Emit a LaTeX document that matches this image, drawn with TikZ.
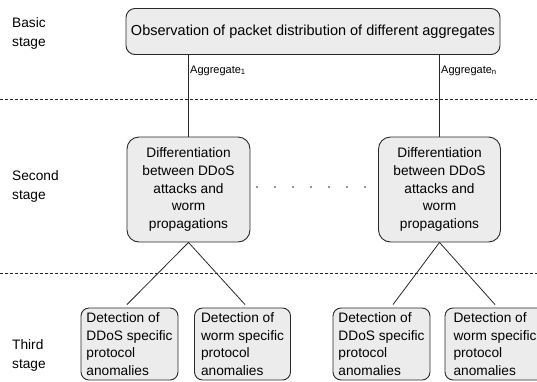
\documentclass[tikz,border=0pt]{standalone}
\usepackage{fontspec}
\setmainfont{Liberation Sans}
\usetikzlibrary{calc}
\definecolor{boxfill}{RGB}{236,236,236}
\definecolor{linegray}{RGB}{40,40,40}
\tikzset{
  stagebox/.style={draw=linegray, line width=0.9pt, fill=boxfill, rounded corners=#1,
    inner sep=0pt, font=\fontsize{13.7}{17.6}\selectfont},
  stagebox/.default=9pt,
  stagelabel/.style={anchor=west, align=left, inner sep=0pt,
    font=\fontsize{13.7}{19}\selectfont},
  agglabel/.style={anchor=west, inner sep=1pt, font=\fontsize{11}{13}\selectfont},
  link/.style={draw=linegray, line width=0.8pt},
  divider/.style={draw=linegray, line width=0.7pt, dash pattern=on 3pt off 2pt}
}
\begin{document}
\begin{tikzpicture}[x=1pt,y=-1pt]
\useasboundingbox (0,0) rectangle (537,381);
\clip (0,0) rectangle (537,381);

% stage names
\node[stagelabel] (lb) at (12,33) {Basic\\stage};
\node[stagelabel] (ls) at (12,186) {Second\\stage};
\node[stagelabel] (lt) at (12,355) {Third\\stage};

% stage dividers
\draw[divider] (0,99) -- (537,99);
\draw[divider] (0,273) -- (537,273);

% basic stage
\node[stagebox, minimum width=374pt, minimum height=46pt,
      font=\fontsize{14.5}{17.6}\selectfont] (top) at (313,31.5)
  {Observation of packet distribution of different aggregates};

% second stage
\node[stagebox=12pt, align=center, minimum width=123pt, minimum height=105pt] (s1) at (188.5,189.5)
  {Differentiation\\between DDoS\\attacks and\\worm\\propagations};
\node[stagebox=12pt, align=center, minimum width=122pt, minimum height=105pt] (s2) at (439.5,189.5)
  {Differentiation\\between DDoS\\attacks and\\worm\\propagations};

% third stage
\node[stagebox=8pt, align=left, minimum width=97pt, minimum height=72pt] (t1) at (129.5,344)
  {Detection of\\DDoS specific\\protocol\\anomalies};
\node[stagebox=8pt, align=left, minimum width=96pt, minimum height=72pt] (t2) at (242.5,344)
  {Detection of\\worm specific\\protocol\\anomalies};
\node[stagebox=8pt, align=left, minimum width=97pt, minimum height=72pt] (t3) at (381.5,344)
  {Detection of\\DDoS specific\\protocol\\anomalies};
\node[stagebox=8pt, align=left, minimum width=100pt, minimum height=72pt] (t4) at (495,344)
  {Detection of\\worm specific\\protocol\\anomalies};

% aggregate links
\draw[link] (top.south -| s1.north) -- (s1.north);
\draw[link] (top.south -| s2.north) -- (s2.north);
\node[agglabel] (a1) at ($(s1.north)+(0.5,-66)$) {Aggregate\textsubscript{1}};
\node[agglabel] (an) at ($(s2.north)+(0.5,-66)$) {Aggregate\textsubscript{n}};

% ellipsis between the second-stage boxes
\foreach \i in {0,...,6}
  \fill[linegray] (257+18*\i,187) circle (0.8pt);

% branching links
\draw[link] (s1.south) -- ($(t1.north)+(-2.5,-3)$);
\draw[link] (s1.south) -- ($(t2.north)+(2.5,-3)$);
\draw[link] (s2.south) -- ($(t3.north)+(11.5,-3)$);
\draw[link] (s2.south) -- ($(t4.north)+(0,-3)$);
\end{tikzpicture}
\end{document}
